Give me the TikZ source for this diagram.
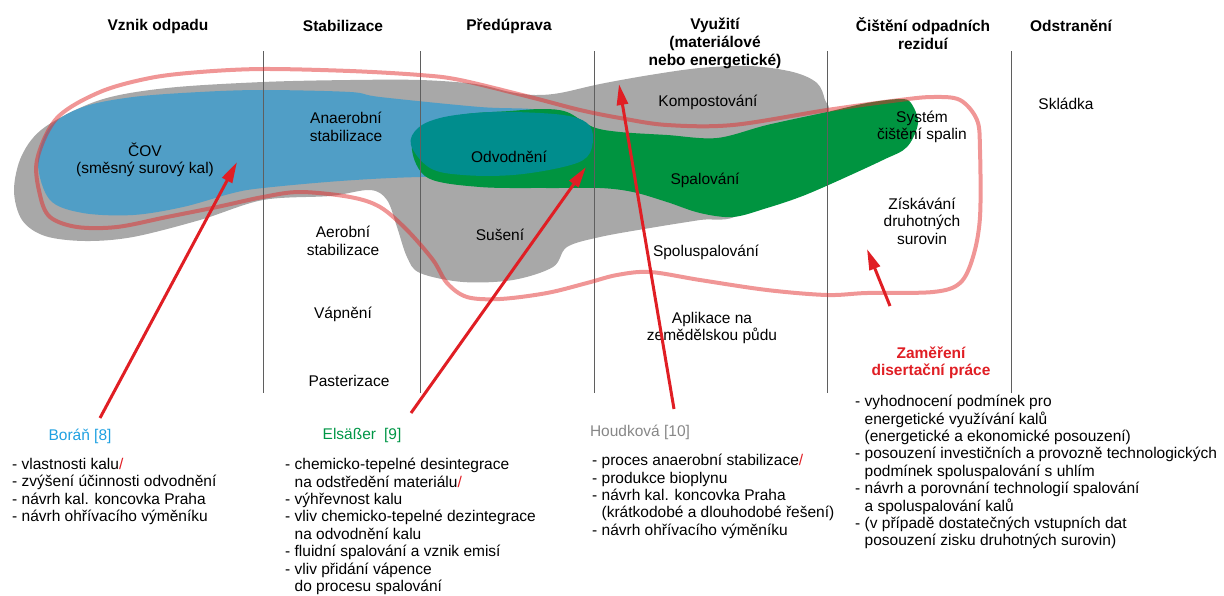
\documentclass[tikz,border=0pt]{standalone}
\usepackage{fontspec}
\setmainfont{Liberation Sans}
\usetikzlibrary{arrows.meta}
\definecolor{shgray}{RGB}{168,168,168}
\definecolor{shblue}{RGB}{80,158,198}
\definecolor{shgreen}{RGB}{0,148,64}
\definecolor{shteal}{RGB}{0,141,141}
\definecolor{zonered}{RGB}{226,45,45}
\definecolor{arrowred}{RGB}{224,30,36}
\definecolor{authblue}{RGB}{30,160,225}
\definecolor{authgreen}{RGB}{0,150,70}
\definecolor{authgray}{RGB}{135,135,135}
\definecolor{sepgray}{RGB}{95,95,95}
\newcommand\lblfont{\fontsize{15.5}{17.6}\selectfont}
\newcommand\lstfont{\fontsize{15.5}{17.4}\selectfont}
\newcommand\ind{\hphantom{- }}
\newcommand\rs{\textcolor{arrowred}{/}}
\tikzset{
  hdr/.style={font=\bfseries\fontsize{15.5}{18}\selectfont, align=center, inner sep=0},
  lbl/.style={font=\lblfont, align=center, inner sep=0},
  lst/.style={font=\lstfont, align=left, anchor=north west, inner sep=0},
  sepline/.style={draw=sepgray, line width=0.7pt},
  zone/.style={draw=zonered, draw opacity=0.5, line width=4pt},
  ptr/.style={draw=arrowred, line width=3pt, -{Triangle[length=21pt,width=11pt]}},
}
\begin{document}
\begin{tikzpicture}[x=1pt,y=-1pt]
\useasboundingbox (0,0) rectangle (1224,595);
% gray area
\fill[shgray] plot[smooth cycle, tension=0.55] coordinates {
 (14,190) (22,155) (45,127) (100,100) (167,88) (263,82) (350,80) (420,80) (475,84)
 (510,92) (535,95) (560,93) (600,84) (650,75) (700,68) (750,66) (793,72) (817,83)
 (825,100) (827,115) (790,160) (740,214) (700,220) (650,228) (600,237) (567,247)
 (553,267) (513,280) (463,282) (420,273) (407,257) (397,227) (387,200) (370,190)
 (330,196) (263,200) (200,220) (133,237) (85,241) (45,236) (22,220)};
% blue area
\fill[shblue] plot[smooth cycle, tension=0.55] coordinates {
 (38,163) (50,127) (83,107) (133,97) (200,92) (263,90) (350,92) (380,97) (480,107)
 (540,110) (585,124) (593,145) (580,168) (540,176) (420,177) (340,181) (263,188)
 (233,193) (183,207) (133,215) (83,213) (50,200)};
% green area
\fill[shgreen] plot[smooth cycle, tension=0.55] coordinates {
 (412,150) (422,128) (460,115) (510,111) (543,109) (567,112) (593,127) (620,132)
 (667,135) (717,138) (767,125) (827,112) (867,103) (900,99) (911,103) (918,123)
 (907,147) (883,160) (833,183) (800,197) (767,208) (733,217) (700,213) (667,202)
 (633,192) (600,188) (547,188) (480,187) (428,178)};
% teal overlap
\fill[shteal] plot[smooth cycle, tension=0.6] coordinates {
 (411,145) (418,128) (440,118) (475,113) (513,112) (563,115) (587,123) (593,138)
 (587,157) (563,167) (513,175) (463,175) (430,168)};
% column separators
\foreach \xx in {263,420,594,827,1011}
  \draw[sepline] (\xx,51) -- (\xx,393);
% focus outline
\draw[zone] plot[smooth cycle, tension=0.55] coordinates {
 (37,160) (57,118) (100,92) (150,78) (200,72) (263,69) (350,71) (420,75) (460,80)
 (530,97) (580,110) (620,118) (667,125) (733,125) (827,110) (900,100) (933,97)
 (960,100) (977,120) (980,150) (980,217) (973,257) (960,283) (933,292) (867,293)
 (827,295) (767,290) (700,280) (650,272) (617,275) (587,283) (547,293) (500,299)
 (467,297) (447,283) (433,260) (407,230) (380,207) (350,197) (300,192) (263,197)
 (217,207) (167,217) (117,227) (77,227) (50,217) (40,195)};
% headers
\node[hdr] (h1) at (158,26) {Vznik odpadu};
\node[hdr] (h2) at (343,26) {Stabilizace};
\node[hdr] (h3) at (509,26) {Předúprava};
\node[hdr] (h4) at (715,43) {Využití\\(materiálové\\nebo energetické)};
\node[hdr] (h5) at (923,34) {Čištění odpadních\\reziduí};
\node[hdr] (h6) at (1071,26) {Odstranění};
% process labels
\node[lbl] (cov) at (145,160) {ČOV\\(směsný surový kal)};
\node[lbl] (anae) at (346,127) {Anaerobní\\stabilizace};
\node[lbl] (odv) at (509,157) {Odvodnění};
\node[lbl] (aero) at (343,241) {Aerobní\\stabilizace};
\node[lbl] (sus) at (500,235) {Sušení};
\node[lbl] (vap) at (343,314) {Vápnění};
\node[lbl] (past) at (349,381) {Pasterizace};
\node[lbl] (komp) at (708,102) {Kompostování};
\node[lbl] (spal) at (705,180) {Spalování};
\node[lbl] (spol) at (706,252) {Spoluspalování};
\node[lbl] (apl) at (712,328) {Aplikace na\\zemědělskou půdu};
\node[lbl] (sys) at (922,127) {Systém\\čištění spalin};
\node[lbl] (zisk) at (922,221) {Získávání\\druhotných\\surovin};
\node[lbl] (skl) at (1066,104) {Skládka};
\node[lbl, font=\bfseries\lblfont, text=arrowred] (zam) at (931,363) {Zaměření\\disertační práce};
% authors
\node[lbl, text=authblue] (bor) at (80,436) {Boráň [8]};
\node[lbl, text=authgreen] (els) at (362,435) {Elsäßer\hspace{8pt}[9]};
\node[lbl, text=authgray] (hou) at (640,432) {Houdková [10]};
% lists
\node[lst] (lbor) at (12,458) {- vlastnosti kalu\rs\\- zvýšení účinnosti odvodnění\\- návrh kal. koncovka Praha\\- návrh ohřívacího výměníku};
\node[lst] (lels) at (285,458) {- chemicko-tepelné desintegrace\\\ind na odstředění materiálu\rs\\- výhřevnost kalu\\- vliv chemicko-tepelné dezintegrace\\\ind na odvodnění kalu\\- fluidní spalování a vznik emisí\\- vliv přidání vápence\\\ind do procesu spalování};
\node[lst] (lhou) at (592,454) {- proces anaerobní stabilizace\rs\\- produkce bioplynu\\- návrh kal. koncovka Praha\\\ind(krátkodobé a dlouhodobé řešení)\\- návrh ohřívacího výměníku};
\node[lst] (lzam) at (855,395) {- vyhodnocení podmínek pro\\\ind energetické využívání kalů\\\ind(energetické a ekonomické posouzení)\\- posouzení investičních a provozně technologických\\\ind podmínek spoluspalování s uhlím\\- návrh a porovnání technologií spalování\\\ind a spoluspalování kalů\\- (v případě dostatečných vstupních dat\\\ind posouzení zisku druhotných surovin)};
% arrows
\coordinate (a1s) at (100,418); \coordinate (a1e) at (237,162);
\coordinate (a2s) at (411,413); \coordinate (a2e) at (586,167);
\coordinate (a3s) at (674,409); \coordinate (a3e) at (619,84);
\coordinate (a4s) at (890,306); \coordinate (a4e) at (867,249);
\draw[ptr] (a1s) -- (a1e);
\draw[ptr] (a2s) -- (a2e);
\draw[ptr] (a3s) -- (a3e);
\draw[ptr] (a4s) -- (a4e);
\end{tikzpicture}
\end{document}
